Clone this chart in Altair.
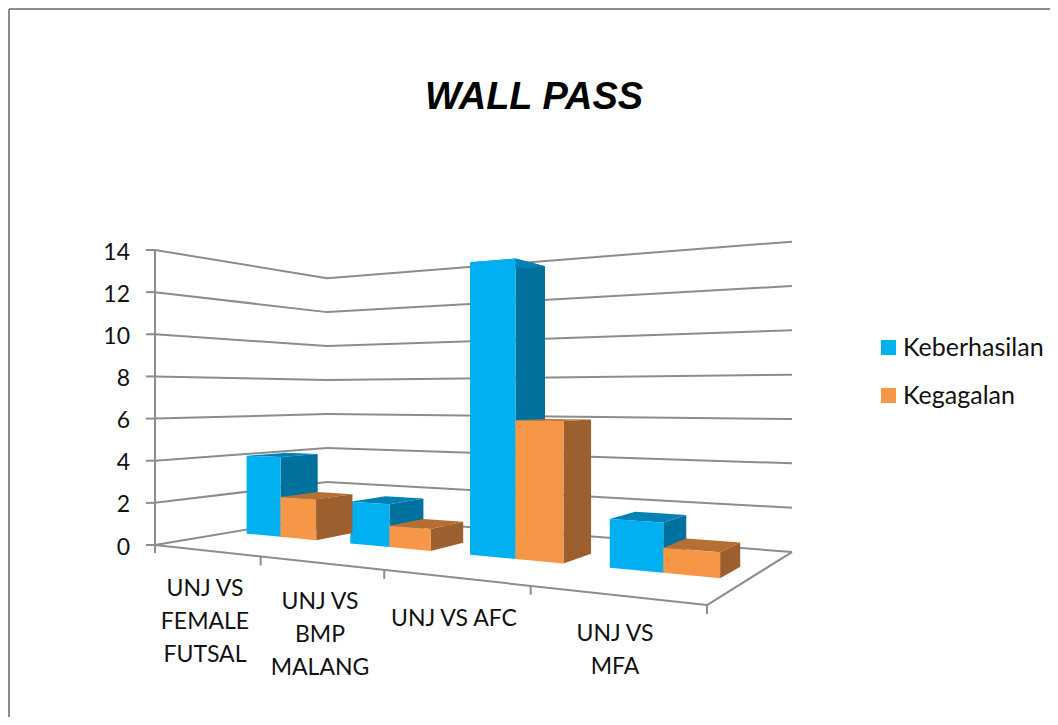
import altair as alt
import pandas as pd

categories = [["UNJ VS", "FEMALE", "FUTSAL"], ["UNJ VS", "BMP", "MALANG"], ["UNJ VS AFC"], ["UNJ VS", "MFA"]]
label_x = [205, 320, 454, 615]
label_y = [589, 602, 619, 634]
series = ["Keberhasilan", "Kegagalan"]
keberhasilan = [4, 2, 13, 2]
kegagalan = [2, 1, 6, 1]
value_ticks = [0, 2, 4, 6, 8, 10, 12, 14]

FONT = "Lato"
GRID = "#8c8c8c"
FRONT = ["#00B0F0", "#F79646"]
SIDE = ["#00719C", "#9C5F2D"]
TOP = ["#0082B4", "#B66F33"]

# Projection of the chart's 3D box (u along the categories, v into depth, h value) to the page
A, B, C = 347.1, 250.5, 155.0
D, E, F = -115.3, 94.9, 545.0
G, H = -0.2898, 0.2401
UNIT = 21.07


def project(u, v, h=0.0):
    w = G * u + H * v + 1
    return (A * u + B * v + C) / w, (D * u + E * v + F) / w - h * UNIT / w


def envelope(points):
    """Turn a convex polygon into the rows of an area (x, upper y, lower y)."""
    rows = []
    n = len(points)
    for x in sorted({round(p[0], 3) for p in points}):
        ys = []
        for i in range(n):
            (x0, y0), (x1, y1) = points[i], points[(i + 1) % n]
            x0, x1 = round(x0, 3), round(x1, 3)
            if min(x0, x1) <= x <= max(x0, x1):
                if x0 == x1:
                    ys += [y0, y1]
                else:
                    ys.append(y0 + (y1 - y0) * (x - x0) / (x1 - x0))
        rows.append((x, min(ys), max(ys)))
    return rows


XS = alt.X("x:Q", scale=alt.Scale(domain=[8, 1050], nice=False, zero=False), axis=None)
YS = alt.Y("y:Q", scale=alt.Scale(domain=[8, 717], reverse=True, nice=False, zero=False), axis=None)

# Wall grid, floor edges, axis and ticks
segments = []


def seg(p, q):
    sid = len(segments) // 2
    segments.append({"id": sid, "x": p[0], "y": p[1]})
    segments.append({"id": sid, "x": q[0], "y": q[1]})


for t in value_ticks:
    seg(project(0, 0, t), project(0, 1, t))
    seg(project(0, 1, t), project(1, 1, t))
    x, y = project(0, 0, t)
    seg((x - 9, y), (x, y))
seg(project(0, 0, 0), project(0, 0, 14))
seg((155, 545), (155, 553))
seg(project(0, 0), project(1, 0))
seg(project(1, 0), project(1, 1))
for k in range(1, 5):
    x, y = project(k / 4, 0)
    seg((x, y), (x, y + 9))

grid = alt.Chart(pd.DataFrame(segments)).mark_line(color=GRID, strokeWidth=2).encode(XS, YS, detail="id:N")

# Outer border of the picture
border = alt.Chart(pd.DataFrame([
    {"id": 0, "x": 9, "y": 9}, {"id": 0, "x": 1050, "y": 9},
    {"id": 1, "x": 9, "y": 9}, {"id": 1, "x": 9, "y": 717},
])).mark_line(color="#8c8c8c", strokeWidth=2).encode(XS, YS, detail="id:N")

# Bars
V0, V1 = 0.39, 0.615
CAT = 0.25
BAR = CAT / 3 * 1.03
layers = []
for s, values in enumerate([keberhasilan, kegagalan]):
    side, top, front = [], [], []
    for i, val in enumerate(values):
        u0 = i * CAT + CAT / 6 - 0.001 + s * BAR
        u1 = u0 + BAR
        faces = {
            "side": [project(u1, V0, 0), project(u1, V1, 0), project(u1, V1, val), project(u1, V0, val)],
            "top": [project(u0, V0, val), project(u1, V0, val), project(u1, V1, val), project(u0, V1, val)],
            "front": [project(u0, V0, 0), project(u1, V0, 0), project(u1, V0, val), project(u0, V0, val)],
        }
        for name, out in [("side", side), ("top", top), ("front", front)]:
            for x, y0, y1 in envelope(faces[name]):
                out.append({"id": i, "x": x, "y": y0, "y2": y1, "series": series[s]})
    layers.append(alt.Chart(pd.DataFrame(side)).mark_area(color=SIDE[s], orient="vertical").encode(
        XS, YS, y2="y2:Q", detail="id:N"))
    layers.append(alt.Chart(pd.DataFrame(top)).mark_area(color=TOP[s], orient="vertical").encode(
        XS, YS, y2="y2:Q", detail="id:N"))
    layers.append(alt.Chart(pd.DataFrame(front)).mark_area(orient="vertical").encode(
        XS, YS, y2="y2:Q", detail="id:N",
        color=alt.Color("series:N", scale=alt.Scale(domain=series, range=FRONT), legend=alt.Legend(
            title=None, orient="none", legendX=868, legendY=327, symbolType="square", symbolSize=225,
            symbolStrokeWidth=0, labelFont=FONT, labelFontSize=25, labelColor="#111111", labelOffset=2,
            rowPadding=22, labelLimit=200, symbolOpacity=1))))

# Text
value_rows = [{"x": 130, "y": project(0, 0, t)[1] + 2.5, "t": str(t)} for t in value_ticks]
value_text = alt.Chart(pd.DataFrame(value_rows)).mark_text(
    font=FONT, fontSize=23, align="right", baseline="middle", color="#111111").encode(XS, YS, text="t:N")

cat_rows = []
for lines, lx, ly in zip(categories, label_x, label_y):
    for n, line in enumerate(lines):
        cat_rows.append({"x": lx, "y": ly + n * 33, "t": line})
cat_text = alt.Chart(pd.DataFrame(cat_rows)).mark_text(
    font=FONT, fontSize=23, align="center", baseline="middle", color="#111111").encode(XS, YS, text="t:N")

title = alt.Chart(pd.DataFrame([{"x": 534, "y": 98, "t": "WALL PASS"}])).mark_text(
    font="Liberation Sans", fontSize=38, fontWeight="bold", fontStyle="italic",
    align="center", baseline="middle", color="#000000").encode(XS, YS, text="t:N")

chart = alt.layer(border, grid, *layers, value_text, cat_text, title).resolve_scale(
    color="shared"
).properties(
    width=1042, height=709, padding=0, background="white",
    autosize=alt.AutoSizeParams(type="none", contains="padding")
).configure_view(stroke=None)

chart.save("out.html", embed_options={"renderer": "svg", "actions": False})
